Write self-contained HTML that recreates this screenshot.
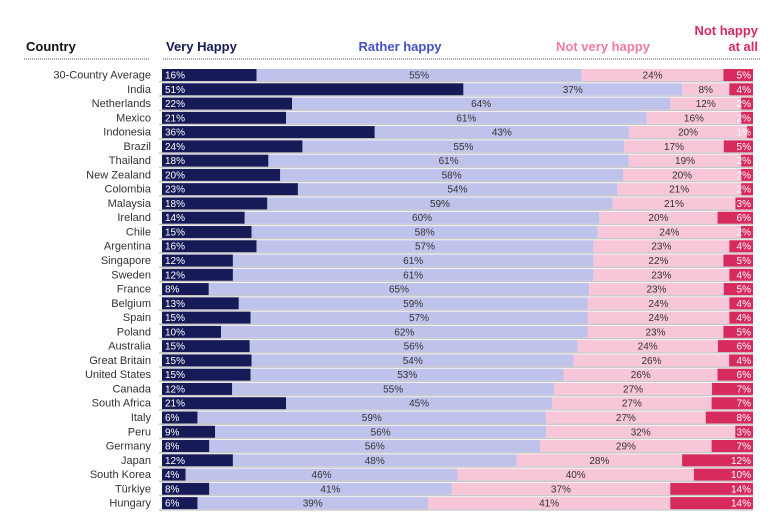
<!DOCTYPE html>
<html><head><meta charset="utf-8"><style>
body{margin:0;background:#fff;width:776px;height:524px;overflow:hidden;font-family:"Liberation Sans Narrow","Liberation Sans",sans-serif}
svg text{font-family:"Liberation Sans Narrow","Liberation Sans",sans-serif}
</style></head><body>
<svg id="c" width="776" height="524">
<text x="26" y="51" font-size="13" font-weight="bold" fill="#111">Country</text>
<text x="166" y="51" font-size="13" font-weight="bold" fill="#161a57">Very Happy</text>
<text x="400" y="51" font-size="13" font-weight="bold" fill="#4353c4" text-anchor="middle">Rather happy</text>
<text x="603" y="51" font-size="13" font-weight="bold" fill="#f07aa3" text-anchor="middle">Not very happy</text>
<text x="758" y="35" font-size="13" font-weight="bold" fill="#d62b5c" text-anchor="end">Not happy</text>
<text x="758" y="51" font-size="13" font-weight="bold" fill="#d62b5c" text-anchor="end">at all</text>
<line x1="24" y1="59" x2="150" y2="59" stroke="#555" stroke-dasharray="1,1"/>
<line x1="163" y1="59" x2="760" y2="59" stroke="#555" stroke-dasharray="1,1"/>
<g id="rows"></g>
</svg>
<script>
const countries=["30-Country Average","India","Netherlands","Mexico","Indonesia","Brazil","Thailand","New Zealand","Colombia","Malaysia","Ireland","Chile","Argentina","Singapore","Sweden","France","Belgium","Spain","Poland","Australia","Great Britain","United States","Canada","South Africa","Italy","Peru","Germany","Japan","South Korea","Türkiye","Hungary"];
const veryHappy=[16,51,22,21,36,24,18,20,23,18,14,15,16,12,12,8,13,15,10,15,15,15,12,21,6,9,8,12,4,8,6];
const ratherHappy=[55,37,64,61,43,55,61,58,54,59,60,58,57,61,61,65,59,57,62,56,54,53,55,45,59,56,56,48,46,41,39];
const notVeryHappy=[24,8,12,16,20,17,19,20,21,21,20,24,23,22,23,23,24,24,23,24,26,26,27,27,27,32,29,28,40,37,41];
const notHappy=[5,4,2,2,1,5,2,2,2,3,6,2,4,5,4,5,4,4,5,6,4,6,7,7,8,3,7,12,10,14,14];
const series=[veryHappy,ratherHappy,notVeryHappy,notHappy];
const colors=["#161a57","#bfc3eb","#f7c6d8","#d62b5c"];
const tcol=["#fff","#333","#333","#fff"];
const names=["very-happy","rather-happy","not-very-happy","not-happy"];
const X0=162,W=591,Y0=69,PITCH=14.27,BH=12;
const g=document.getElementById('rows');const NS="http://www.w3.org/2000/svg";
function mk(t,a){const e=document.createElementNS(NS,t);for(const k in a)e.setAttribute(k,a[k]);return e;}
countries.forEach((c,i)=>{
  const y=Y0+i*PITCH;
  const lab=mk('text',{x:151,y:y+9.5,'font-size':11,fill:'#333','text-anchor':'end'});
  lab.textContent=c;
  
  
  g.appendChild(lab);
  const sh=mk('rect',{x:159,y:y+BH,width:594,height:1.5,fill:'#c8c8c8'});
  
  
  g.appendChild(sh);
  const tot=series.reduce((s,a)=>s+a[i],0);
  let x=X0;
  series.forEach((s,k)=>{
    const w=s[i]/tot*W;
    const r=mk('rect',{x:x,y:y,width:w,height:BH,fill:colors[k]});
    
    
    g.appendChild(r);
    let tx,anchor;
    if(k===0){tx=x+3;anchor='start';}else if(k===3){tx=x+w-2;anchor='end';}else{tx=x+w/2;anchor='middle';}
    const t=mk('text',{x:tx,y:y+9.5,'font-size':10,fill:tcol[k],'text-anchor':anchor});
    t.textContent=s[i]+'%';
    
    
    g.appendChild(t);
    x+=w;
  });
});
</script>
</body></html>
